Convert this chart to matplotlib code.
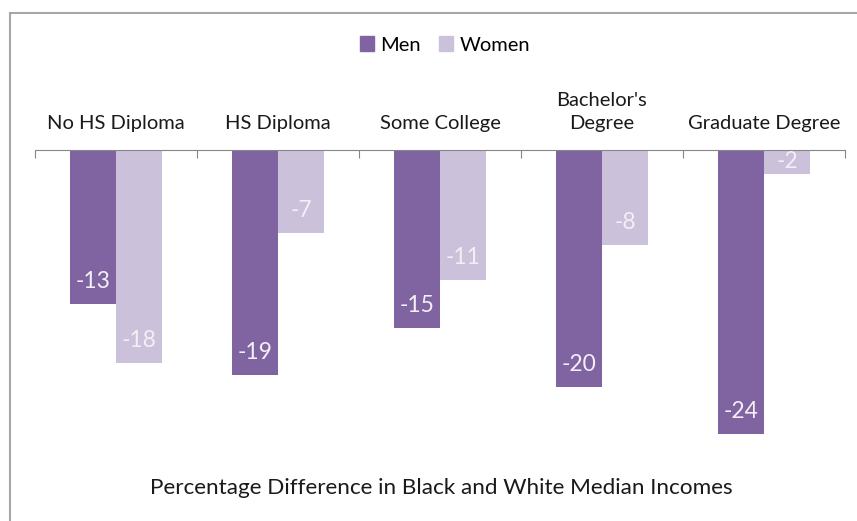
import matplotlib
matplotlib.use("Agg")
import matplotlib.pyplot as plt
from matplotlib.lines import Line2D
from matplotlib.patches import Patch
from matplotlib.transforms import ScaledTranslation
import numpy as np

# data
categories = ["No HS Diploma", "HS Diploma", "Some College", "Bachelor's\nDegree", "Graduate Degree"]
men = [-13, -19, -15, -20, -24]
women = [-18, -7, -11, -8, -2]

men_color = "#8064A2"
women_color = "#CCC1DA"
font = "Lato"

fig = plt.figure(figsize=(8.57, 5.21), dpi=100)
W, H = 857, 521

# axes placed in pixel coordinates of the reference
ax = fig.add_axes([35 / W, 1 - 458 / H, 810 / W, (458 - 150) / H])
ax.set_xlim(0, 5)
ax.set_ylim(-26, 0)

x = np.arange(len(categories)) + 0.5
bw = 0.285
ax.bar(x - bw / 2, men, bw, color=men_color, label="Men")
ax.bar(x + bw / 2, women, bw, color=women_color, label="Women")

# value labels inside the bar ends
for xs, vals in ((x - bw / 2, men), (x + bw / 2, women)):
    for xi, v in zip(xs, vals):
        ax.text(xi, min(v + 1.9, v / 2), str(v), ha="center", va="center",
                color="#F4EEF6", fontsize=16.5, family=font)

# axis line at zero with downward ticks at category boundaries
for s in ("left", "right", "bottom"):
    ax.spines[s].set_visible(False)
ax.spines["top"].set_color("#868686")
ax.xaxis.set_ticks_position("top")
ax.set_xticks(np.arange(6))
ax.tick_params(axis="x", direction="in", length=6, color="#868686", labeltop=False)
ax.set_yticks([])

# category labels above the axis
lift = ax.transData + ScaledTranslation(0, 18 / 100, fig.dpi_scale_trans)
for xi, c in zip(x, categories):
    ax.text(xi, 0, c, transform=lift, ha="center", va="bottom",
            fontsize=14.5, family=font, color="#1a1a1a", linespacing=1.4)

# legend
handles = [Patch(color=men_color, label="Men"), Patch(color=women_color, label="Women")]
fig.legend(handles=handles, loc="center", bbox_to_anchor=(445 / W, 1 - 45 / H), ncol=2,
           frameon=False, prop={"family": font, "size": 14.5}, handlelength=0.7,
           handleheight=0.7, handletextpad=0.3, columnspacing=0.9)

# bottom title
fig.text(441 / W, 1 - 488 / H, "Percentage Difference in Black and White Median Incomes",
         ha="center", va="center", fontsize=16.2, family=font, color="#1a1a1a")

# chart frame (left and top edges visible)
fig.add_artist(Line2D([10 / W, 10 / W], [0, 1 - 13 / H], color="#A6A6A6", lw=1.5))
fig.add_artist(Line2D([10 / W, 1], [1 - 13 / H, 1 - 13 / H], color="#A6A6A6", lw=1.5))

fig.savefig("out.png", dpi=100)
